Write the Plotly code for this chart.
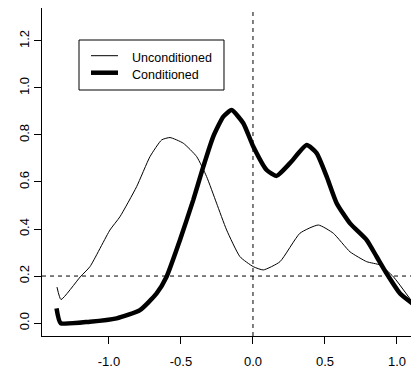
import plotly.graph_objects as go

unc_x = [-1.361, -1.333, -1.20, -1.132, -0.993, -0.924, -0.808, -0.715, -0.634, -0.576, -0.484, -0.391,
         -0.322, -0.253, -0.183, -0.09, 0.002, 0.072, 0.1875, 0.326, 0.454, 0.558, 0.674, 0.79, 0.882, 0.975, 1.113]
unc_y = [0.153, 0.100, 0.196, 0.24, 0.396, 0.452, 0.58, 0.708, 0.779, 0.789, 0.765, 0.708,
         0.623, 0.51, 0.396, 0.282, 0.24, 0.226, 0.261, 0.382, 0.417, 0.382, 0.303, 0.261, 0.247, 0.197, 0.084]

con_x = [-1.364, -1.336, -1.132, -0.947, -0.785, -0.669, -0.6, -0.507, -0.415, -0.345, -0.276, -0.206,
         -0.148, -0.067, 0.002, 0.095, 0.164, 0.257, 0.373, 0.442, 0.512, 0.581, 0.674, 0.79, 0.859,
         0.928, 1.021, 1.113]
con_y = [0.062, 0.0, 0.006, 0.02, 0.055, 0.126, 0.197, 0.353, 0.523, 0.665, 0.793, 0.878,
         0.906, 0.85, 0.751, 0.651, 0.626, 0.68, 0.757, 0.723, 0.623, 0.51, 0.424, 0.353, 0.282,
         0.211, 0.126, 0.081]

series_names = ["Unconditioned", "Conditioned"]
series_widths = [1, 4.5]

x_ticks = [-1.0, -0.5, 0.0, 0.5, 1.0]
y_ticks = [0.0, 0.2, 0.4, 0.6, 0.8, 1.0, 1.2]
vline_x = 0.0
hline_y = 0.2

FONT = "Liberation Sans, Arial, sans-serif"

fig = go.Figure()
fig.add_trace(go.Scatter(x=unc_x, y=unc_y, mode="lines", name=series_names[0], showlegend=False,
                         line=dict(color="black", width=series_widths[0], shape="spline", smoothing=0.5)))
fig.add_trace(go.Scatter(x=con_x, y=con_y, mode="lines", name=series_names[1], showlegend=False,
                         line=dict(color="black", width=series_widths[1], shape="spline", smoothing=0.5)))

dash = "4px,4px"
fig.add_shape(type="line", xref="x", yref="paper", x0=vline_x, x1=vline_x, y0=0, y1=1,
              line=dict(color="black", width=1, dash=dash))
fig.add_shape(type="line", xref="paper", yref="y", x0=0, x1=1, y0=hline_y, y1=hline_y,
              line=dict(color="black", width=1, dash=dash))

# manual legend (paper coordinates)
fig.add_shape(type="rect", xref="paper", yref="paper", x0=0.0987, x1=0.4853, y0=0.75, y1=0.9024,
              line=dict(color="black", width=1), fillcolor="white")
leg_line_y = [0.8546, 0.8027]
leg_text_y = [0.8476, 0.7957]
for name, w, ly, ty in zip(series_names, series_widths, leg_line_y, leg_text_y):
    fig.add_shape(type="line", xref="paper", yref="paper", x0=0.1307, x1=0.2027, y0=ly, y1=ly,
                  line=dict(color="black", width=w))
    fig.add_annotation(xref="paper", yref="paper", x=0.2373, y=ty, text=name, showarrow=False,
                       xanchor="left", yanchor="middle", borderpad=0,
                       font=dict(family=FONT, size=12.5, color="black"))

fig.update_layout(
    width=411, height=372,
    margin=dict(l=34, r=2, t=0, b=44),
    paper_bgcolor="white", plot_bgcolor="white",
    font=dict(family=FONT, size=13, color="black"),
    showlegend=False,
)
fig.update_xaxes(range=[-1.465, 1.139], tickvals=x_ticks, ticktext=["-1.0", "-0.5", "0.0", "0.5", "1.0"],
                 ticks="outside", ticklen=7, tickcolor="black", showline=True, linecolor="black",
                 linewidth=1, mirror=True, showgrid=False, zeroline=False, ticklabelstandoff=6)
fig.update_yaxes(range=[-0.055, 1.340], tickvals=y_ticks, ticktext=[f"{v:.1f}" for v in y_ticks],
                 tickangle=-90, ticks="outside", ticklen=7, tickcolor="black", showline=True,
                 linecolor="black", linewidth=1, mirror=True, showgrid=False, zeroline=False)

fig.write_html("out.html")
